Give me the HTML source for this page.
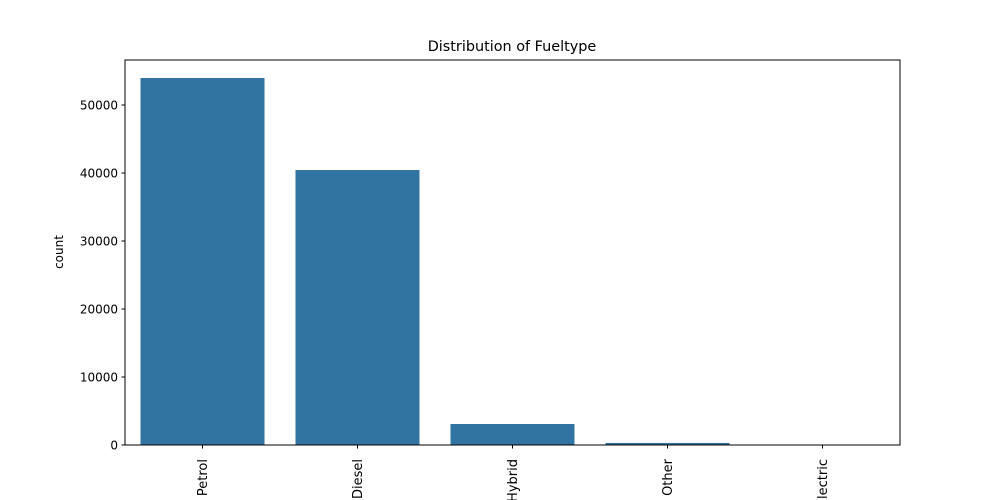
<!DOCTYPE html>
<html><head><meta charset="utf-8"><style>
body{margin:0;background:#fff;}
svg{display:block;font-family:"DejaVu Sans","Liberation Sans",sans-serif;}
</style></head><body>
<svg id="chart" width="1000" height="500">
<text x="512" y="51" font-size="14.4" text-anchor="middle">Distribution of Fueltype</text>
<g id="bars"></g>
<g id="yticks"></g>
<g id="xticks"></g>
<rect x="125" y="60" width="775" height="385" fill="none" stroke="#000" stroke-width="1"/>
<text transform="translate(63,252) rotate(-90)" font-size="12" text-anchor="middle">count</text>
</svg>
<script>
const categories=["Petrol","Diesel","Hybrid","Other","Electric"];
const counts=[53970,40440,3090,300,10];
const yTickValues=[0,10000,20000,30000,40000,50000];
const yMax=56618;
const L=125,R=900,T=60,B=445;
const ns="http://www.w3.org/2000/svg";
function y(v){return B-(v/yMax)*(B-T);}
function xc(i){return L+(i+0.5)*(R-L)/categories.length;}
const bw=0.8*(R-L)/categories.length;
const bars=document.getElementById('bars'),yt=document.getElementById('yticks'),xt=document.getElementById('xticks');
categories.forEach((c,i)=>{
  const r=document.createElementNS(ns,'rect');
  r.setAttribute('x',xc(i)-bw/2);r.setAttribute('y',y(counts[i]));
  r.setAttribute('width',bw);r.setAttribute('height',B-y(counts[i]));
  r.setAttribute('fill','#3274a1');
  
  
  bars.appendChild(r);
  const t=document.createElementNS(ns,'line');
  t.setAttribute('x1',xc(i));t.setAttribute('x2',xc(i));t.setAttribute('y1',B);t.setAttribute('y2',B+3.5);t.setAttribute('stroke','#000');
  
  
  xt.appendChild(t);
  const l=document.createElementNS(ns,'text');
  l.setAttribute('transform','translate('+(xc(i)+4.5)+','+(B+14)+') rotate(-90)');
  l.setAttribute('font-size','13');l.setAttribute('text-anchor','end');
  l.textContent=c;
  
  
  xt.appendChild(l);
});
yTickValues.forEach(v=>{
  const t=document.createElementNS(ns,'line');
  t.setAttribute('x1',L-3.5);t.setAttribute('x2',L);t.setAttribute('y1',y(v));t.setAttribute('y2',y(v));t.setAttribute('stroke','#000');
  
  
  yt.appendChild(t);
  const l=document.createElementNS(ns,'text');
  l.setAttribute('x',L-7);l.setAttribute('y',y(v)+4.5);l.setAttribute('font-size','12');l.setAttribute('text-anchor','end');
  l.textContent=v;
  
  
  yt.appendChild(l);
});
</script>
</body></html>
